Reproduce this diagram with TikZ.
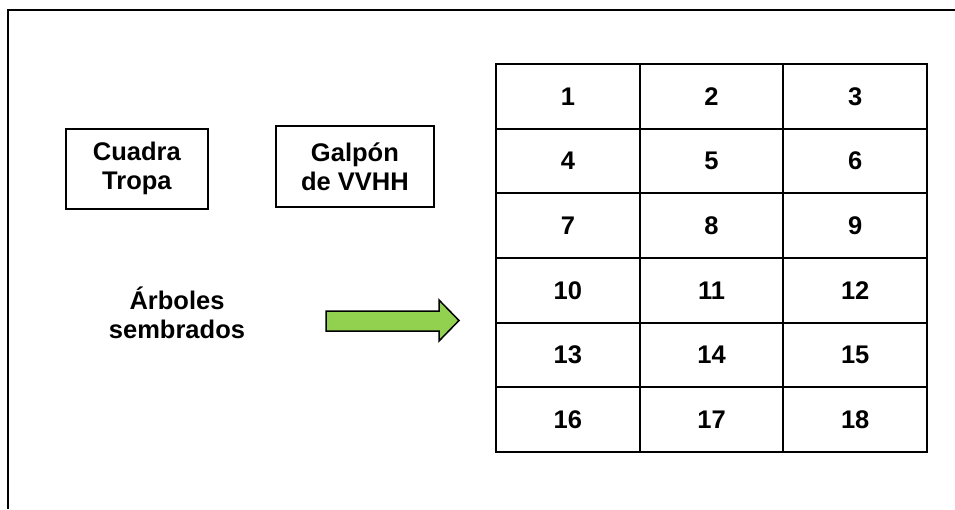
\documentclass[tikz,border=0pt]{standalone}
\usepackage{fontspec}
\setmainfont{Liberation Sans}
\begin{document}
\begin{tikzpicture}[x=1pt,y=-1pt,
  txt/.style={font=\fontsize{25.5}{29}\selectfont\bfseries, align=center, inner sep=0pt},
  boxnode/.style={txt, draw=black, line width=1.8pt, anchor=north west},
  cell/.style={txt, minimum width=143.67pt, minimum height=64.67pt, anchor=north west, outer sep=0pt},
  gridline/.style={line width=1.8pt, black},
  frameline/.style={line width=2.4pt, black},
  arrowfill/.style={fill={rgb,255:red,146;green,208;blue,80}, draw=black, line width=1.5pt, line join=miter}]
\useasboundingbox (0,0) rectangle (955,509);
% frame
\coordinate (fA) at (8,509);
\coordinate (fB) at (8,10);
\coordinate (fC) at (957,10);
\draw[frameline] (fA) -- (fB) -- (fC);
% boxes
\node[boxnode, minimum width=142pt, minimum height=80pt] (cuadra) at (65,128) {};
\node[txt] (cuadraT) at (cuadra.center) {Cuadra\\Tropa};
\node[boxnode, minimum width=158pt, minimum height=81pt] (galpon) at (275,125) {};
\node[txt] (galponT) at (galpon.center) {Galpón\\de VVHH};
% label
\node[txt] (arboles) at (177,313) {Árboles\\sembrados};
% arrow
\draw[arrowfill] (326,311) -- (439,311) -- (439,300) -- (459,320.5) -- (439,341) -- (439,331) -- (326,331) -- cycle;
% table cells
\foreach \r in {0,...,5}{
  \foreach \c in {0,1,2}{
    \pgfmathtruncatemacro{\n}{\r*3+\c+1}
    \node[cell] (c\n) at ({496+\c*143.67},{64+\r*64.67}) {\n};
  }
}
% grid lines
\draw[gridline] (c1.north west) rectangle (c18.south east);
\draw[gridline] (c1.north east) -- (c16.south east);
\draw[gridline] (c2.north east) -- (c17.south east);
\foreach \a/\b in {1/3,4/6,7/9,10/12,13/15}{
  \draw[gridline] (c\a.south west) -- (c\b.south east);
}
\end{tikzpicture}
\end{document}
